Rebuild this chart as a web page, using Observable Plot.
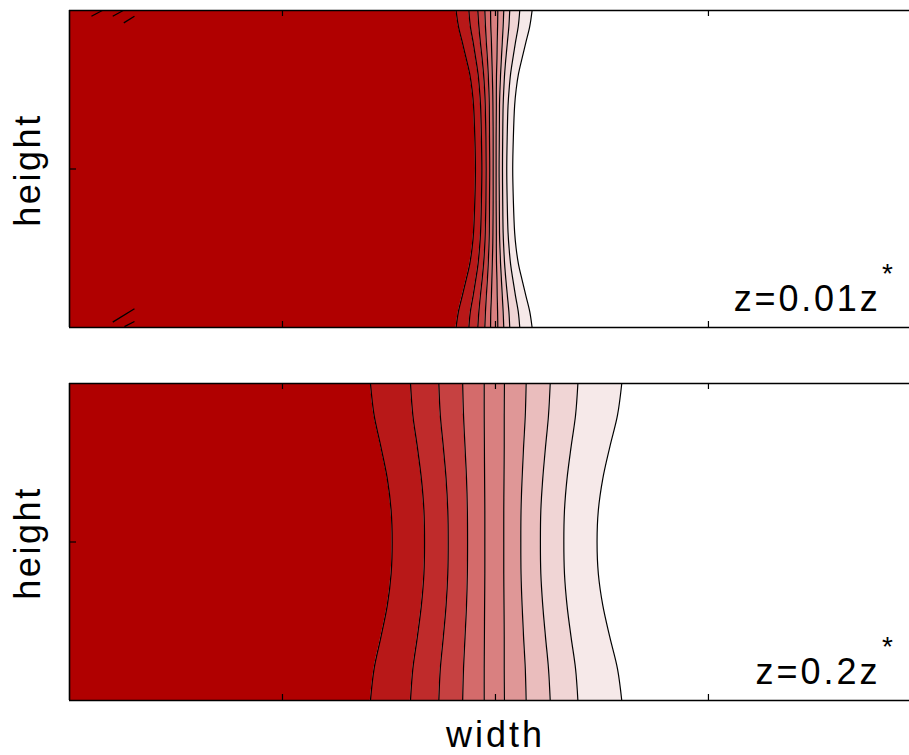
<!DOCTYPE html>
<html><head><meta charset="utf-8">
<script src="https://cdn.jsdelivr.net/npm/d3@7"></script>
<script src="https://cdn.jsdelivr.net/npm/@observablehq/plot@0.6"></script>
<style>
body{margin:0;background:#fff;}
#chart{width:909px;height:755px;overflow:hidden;}
#chart svg{display:block;}
</style></head><body><div id="chart"></div>
<script>
// ---- data ----
const xTicks = [1, 2, 3];
const yTicks = [0.5];
const xLabel = "width";
const yLabel = "height";
const panelLabels = ["z=0.01z", "z=0.2z"];
const starLabel = "*";
const bandColors = ["#B00000", "#B81818", "#BF2B2B", "#C64141", "#D46B6B", "#D98080", "#DF9797", "#EABDBD", "#F0D5D5", "#F6E9E9"];

const topHeights = [0, 0.05, 0.1, 0.15, 0.2, 0.25, 0.3, 0.4, 0.5, 0.6, 0.7, 0.75, 0.8, 0.85, 0.9, 0.95, 1];
const topContours = [
  [1.815, 1.826, 1.844, 1.862, 1.879, 1.890, 1.897, 1.903, 1.906, 1.903, 1.897, 1.890, 1.879, 1.862, 1.844, 1.826, 1.815],
  [1.875, 1.882, 1.895, 1.907, 1.918, 1.925, 1.930, 1.934, 1.936, 1.934, 1.930, 1.925, 1.918, 1.907, 1.895, 1.882, 1.875],
  [1.917, 1.922, 1.929, 1.937, 1.944, 1.949, 1.952, 1.955, 1.956, 1.955, 1.952, 1.949, 1.944, 1.937, 1.929, 1.922, 1.917],
  [1.950, 1.953, 1.957, 1.962, 1.966, 1.969, 1.971, 1.972, 1.973, 1.972, 1.971, 1.969, 1.966, 1.962, 1.957, 1.953, 1.950],
  [1.977, 1.978, 1.981, 1.983, 1.985, 1.987, 1.988, 1.989, 1.989, 1.989, 1.988, 1.987, 1.985, 1.983, 1.981, 1.978, 1.977],
  [2.011, 2.010, 2.008, 2.007, 2.005, 2.004, 2.004, 2.003, 2.003, 2.003, 2.004, 2.004, 2.005, 2.007, 2.008, 2.010, 2.011],
  [2.039, 2.036, 2.032, 2.028, 2.024, 2.021, 2.019, 2.018, 2.017, 2.018, 2.019, 2.021, 2.024, 2.028, 2.032, 2.036, 2.039],
  [2.067, 2.063, 2.056, 2.049, 2.043, 2.039, 2.036, 2.034, 2.033, 2.034, 2.036, 2.039, 2.043, 2.049, 2.056, 2.063, 2.067],
  [2.114, 2.107, 2.094, 2.082, 2.071, 2.064, 2.059, 2.055, 2.053, 2.055, 2.059, 2.064, 2.071, 2.082, 2.094, 2.107, 2.114],
  [2.172, 2.161, 2.143, 2.125, 2.108, 2.097, 2.090, 2.084, 2.081, 2.084, 2.090, 2.097, 2.108, 2.125, 2.143, 2.161, 2.172]
];

const bottomHeights = [0, 0.1, 0.2, 0.3, 0.4, 0.5, 0.6, 0.7, 0.8, 0.9, 1];
const bottomContours = [
  [1.413, 1.430, 1.462, 1.492, 1.510, 1.515, 1.510, 1.492, 1.462, 1.430, 1.413],
  [1.601, 1.612, 1.633, 1.652, 1.664, 1.667, 1.664, 1.652, 1.633, 1.612, 1.601],
  [1.734, 1.741, 1.755, 1.768, 1.776, 1.778, 1.776, 1.768, 1.755, 1.741, 1.734],
  [1.846, 1.850, 1.857, 1.864, 1.868, 1.869, 1.868, 1.864, 1.857, 1.850, 1.846],
  [1.947, 1.947, 1.948, 1.949, 1.950, 1.950, 1.950, 1.949, 1.948, 1.947, 1.947],
  [2.042, 2.041, 2.041, 2.040, 2.039, 2.039, 2.039, 2.040, 2.041, 2.041, 2.042],
  [2.144, 2.140, 2.132, 2.125, 2.120, 2.119, 2.120, 2.125, 2.132, 2.140, 2.144],
  [2.257, 2.249, 2.235, 2.222, 2.213, 2.211, 2.213, 2.222, 2.235, 2.249, 2.257],
  [2.387, 2.376, 2.355, 2.336, 2.324, 2.321, 2.324, 2.336, 2.355, 2.376, 2.387],
  [2.593, 2.573, 2.537, 2.504, 2.483, 2.477, 2.483, 2.504, 2.537, 2.573, 2.593]
];

// small contour fragments in the corners of the upper panel
const topArtifacts = [
  {x1: 0.103, y1: 0.982, x2: 0.154, y2: 1.0},
  {x1: 0.203, y1: 0.982, x2: 0.252, y2: 1.0},
  {x1: 0.255, y1: 0.961, x2: 0.305, y2: 0.982},
  {x1: 0.203, y1: 0.017, x2: 0.305, y2: 0.059},
  {x1: 0.258, y1: 0.003, x2: 0.305, y2: 0.019}
];

// ---- layout ----
const W = 909, ML = 69, MR = 0;
const xDomain = [0, 3.944];
const FONT = "'Liberation Sans', Arial, Helvetica, sans-serif";
const spacing = {"height": "2.6px", "width": "3px", "z=0.01z": "2.8px", "z=0.2z": "3px"};

function panel({heights, contours, label, artifacts, height, marginTop, marginBottom, showX}) {
  const frameH = height - marginTop - marginBottom;
  const frameW = W - ML - MR;
  const rows = heights.map((h, i) => ({y: h, c: contours.map(c => c[i])}));
  const curve = "catmull-rom";
  const marks = [];
  marks.push(Plot.areaX(rows, {y: "y", x1: xDomain[0], x2: d => d.c[0], fill: bandColors[0], curve}));
  for (let k = 1; k < contours.length; k++) {
    marks.push(Plot.areaX(rows, {y: "y", x1: d => d.c[k - 1], x2: d => d.c[k], fill: bandColors[k], curve}));
  }
  for (let k = 0; k < contours.length; k++) {
    marks.push(Plot.lineX(rows, {y: "y", x: d => d.c[k], stroke: "#000", strokeWidth: 1.2, curve}));
  }
  if (artifacts) {
    marks.push(Plot.link(artifacts, {x1: "x1", y1: "y1", x2: "x2", y2: "y2", stroke: "#000", strokeWidth: 1.3}));
  }
  // inward ticks
  marks.push(Plot.ruleX(xTicks, {x: d => d, insetTop: frameH - 6, stroke: "#000", strokeWidth: 1.2}));
  marks.push(Plot.ruleX(xTicks, {x: d => d, insetBottom: frameH - 6, stroke: "#000", strokeWidth: 1.2}));
  marks.push(Plot.ruleY(yTicks, {y: d => d, insetRight: frameW - 7, stroke: "#000", strokeWidth: 1.2}));
  // frame (right side is cut off)
  marks.push(Plot.ruleY([0, 1], {y: d => d, stroke: "#000", strokeWidth: 1.6}));
  marks.push(Plot.ruleX([xDomain[0]], {x: d => d, stroke: "#000", strokeWidth: 1.6}));
  // labels
  marks.push(Plot.text([yLabel], {frameAnchor: "left", text: d => d, textAnchor: "middle", lineAnchor: "middle", rotate: -90, dx: -41, dy: 1, fontSize: 36, fill: "#000"}));
  marks.push(Plot.text([label], {frameAnchor: "bottom-right", text: d => d, textAnchor: "end", lineAnchor: "bottom", dx: -29, dy: -17, fontSize: 36, fill: "#000"}));
  marks.push(Plot.text([starLabel], {frameAnchor: "bottom-right", text: d => d, textAnchor: "middle", lineAnchor: "bottom", dx: -22, dy: -45, fontSize: 28, fill: "#000"}));
  if (showX) {
    marks.push(Plot.text([xLabel], {frameAnchor: "bottom", text: d => d, textAnchor: "middle", lineAnchor: "middle", dx: 6, dy: 35, fontSize: 36, fill: "#000"}));
  }
  const svg = Plot.plot({
    width: W, height, marginLeft: ML, marginRight: MR, marginTop, marginBottom,
    x: {domain: xDomain, axis: null},
    y: {domain: [0, 1], axis: null},
    style: {fontFamily: FONT, background: "#fff", overflow: "visible"},
    marks
  });
  d3.select(svg).selectAll("text").each(function () {
    const t = this.textContent;
    if (spacing[t]) this.style.letterSpacing = spacing[t];
  });
  return svg;
}

const root = document.getElementById("chart");
root.appendChild(panel({heights: topHeights, contours: topContours, label: panelLabels[0], artifacts: topArtifacts, height: 337, marginTop: 10, marginBottom: 10, showX: false}));
root.appendChild(panel({heights: bottomHeights, contours: bottomContours, label: panelLabels[1], artifacts: null, height: 418, marginTop: 46, marginBottom: 55, showX: true}));
</script>
</body></html>
